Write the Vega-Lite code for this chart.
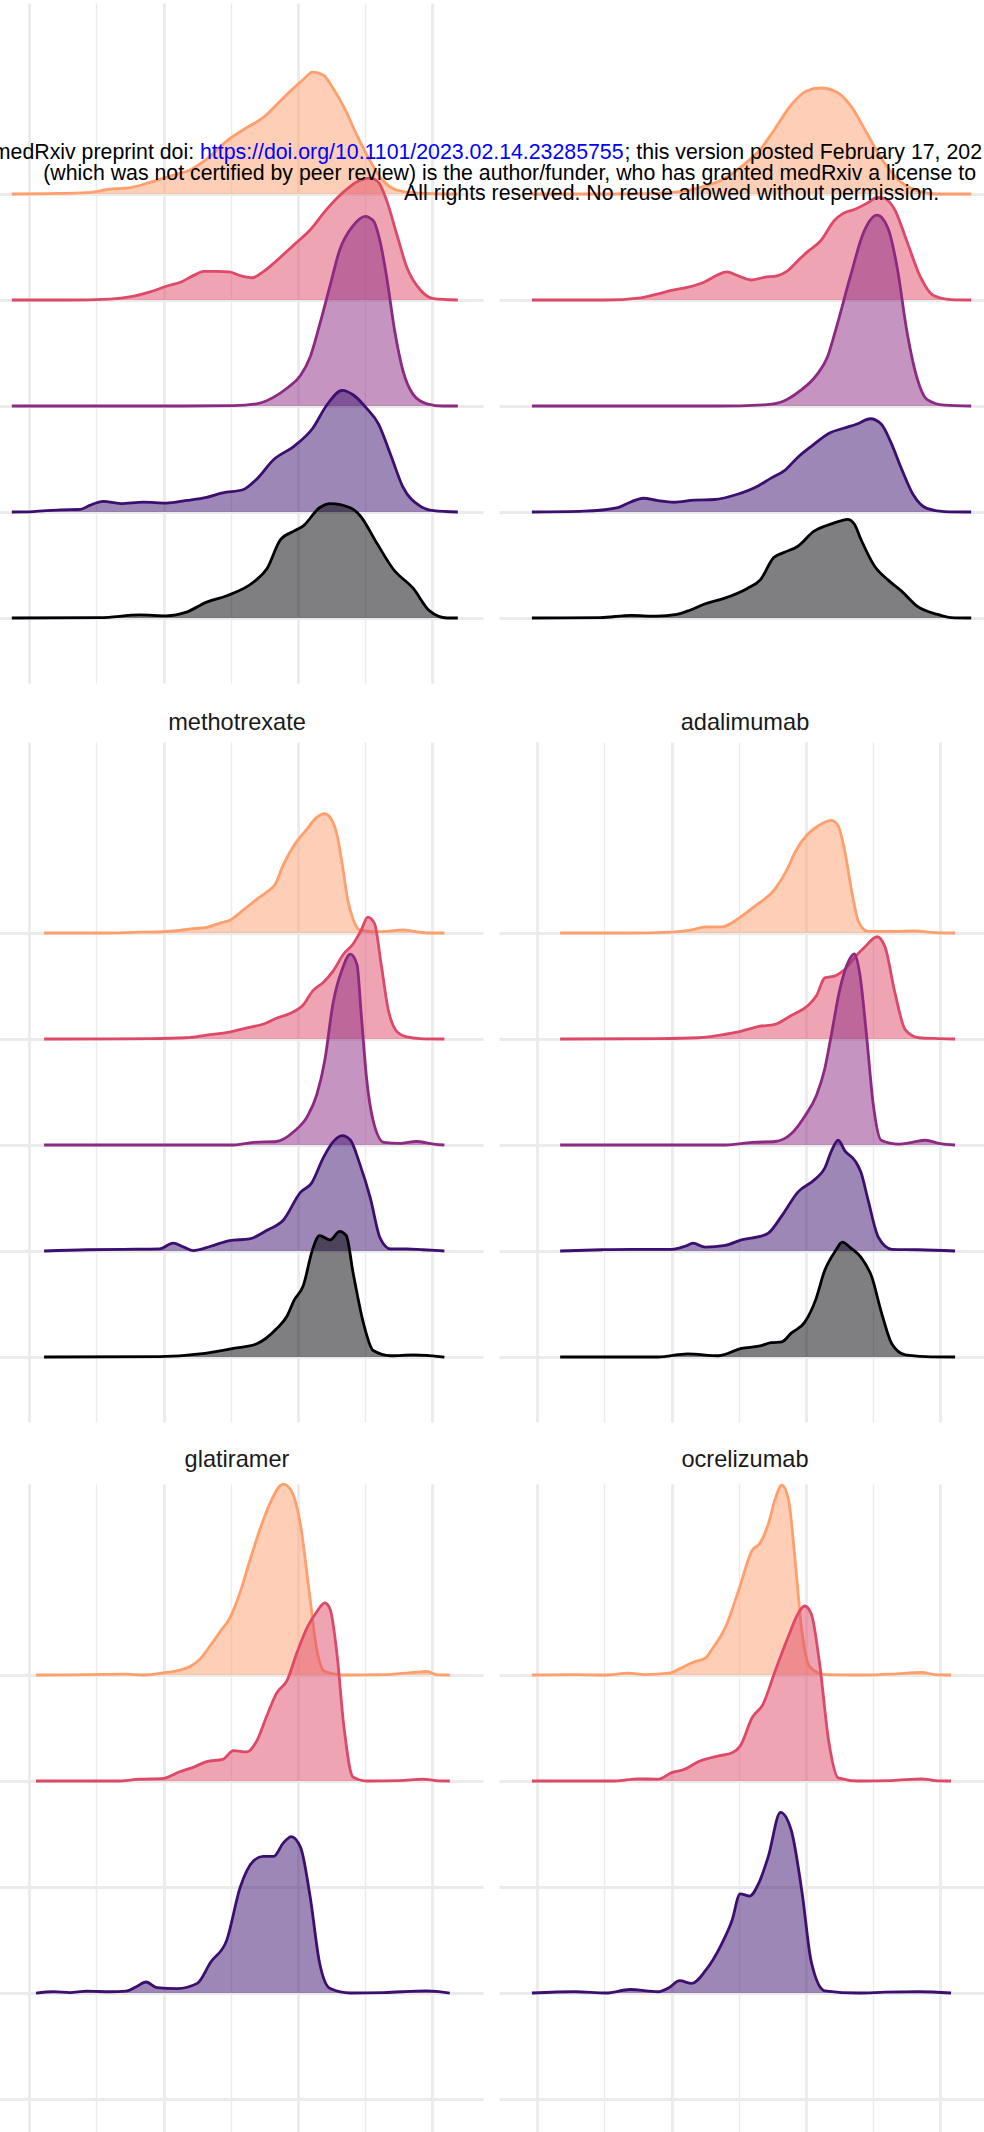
{
"$schema": "https://vega.github.io/schema/vega-lite/v6.json",
"padding": {"left": -9, "right": -7, "top": 3, "bottom": -27},
"background": "white",
"config": {"view": {"stroke": null}},
"datasets": {
"one": [{"x": 0, "d": 0, "g": 0}],
"tl": [
{"g":1,"x":-1.3,"d":0},{"g":1,"x":1.5,"d":0.004},{"g":1,"x":4.3,"d":0.013},{"g":1,"x":6.0,"d":0.046},{"g":1,"x":7.5,"d":0.06},{"g":1,"x":9.0,"d":0.11},{"g":1,"x":10.5,"d":0.17},{"g":1,"x":12.0,"d":0.23},{"g":1,"x":13.2,"d":0.33},{"g":1,"x":14.9,"d":0.52},{"g":1,"x":16.1,"d":0.62},{"g":1,"x":17.4,"d":0.72},{"g":1,"x":18.7,"d":0.88},{"g":1,"x":19.6,"d":0.99},{"g":1,"x":20.4,"d":1.08},{"g":1,"x":21.1,"d":1.15},{"g":1,"x":21.9,"d":1.12},{"g":1,"x":22.6,"d":1.0},{"g":1,"x":23.5,"d":0.8},{"g":1,"x":24.4,"d":0.55},{"g":1,"x":25.3,"d":0.33},{"g":1,"x":26.3,"d":0.13},{"g":1,"x":27.3,"d":0.04},{"g":1,"x":28.7,"d":0.01},{"g":1,"x":30.5,"d":0.002},{"g":1,"x":31.9,"d":0},
{"g":2,"x":-1.3,"d":0},{"g":2,"x":2.8,"d":0},{"g":2,"x":6.0,"d":0.008},{"g":2,"x":7.7,"d":0.034},{"g":2,"x":9.0,"d":0.076},{"g":2,"x":10.2,"d":0.13},{"g":2,"x":11.3,"d":0.17},{"g":2,"x":12.2,"d":0.23},{"g":2,"x":13.0,"d":0.27},{"g":2,"x":14.0,"d":0.27},{"g":2,"x":14.9,"d":0.265},{"g":2,"x":15.7,"d":0.23},{"g":2,"x":16.6,"d":0.21},{"g":2,"x":17.4,"d":0.265},{"g":2,"x":18.4,"d":0.37},{"g":2,"x":19.7,"d":0.52},{"g":2,"x":20.9,"d":0.66},{"g":2,"x":22.1,"d":0.85},{"g":2,"x":23.4,"d":1.02},{"g":2,"x":24.6,"d":1.13},{"g":2,"x":25.4,"d":1.15},{"g":2,"x":26.0,"d":1.11},{"g":2,"x":26.6,"d":0.94},{"g":2,"x":27.4,"d":0.6},{"g":2,"x":28.1,"d":0.31},{"g":2,"x":29.1,"d":0.097},{"g":2,"x":30.1,"d":0.013},{"g":2,"x":31.9,"d":0},
{"g":3,"x":-1.3,"d":0},{"g":3,"x":10.2,"d":0},{"g":3,"x":15.2,"d":0.004},{"g":3,"x":16.9,"d":0.02},{"g":3,"x":18.2,"d":0.084},{"g":3,"x":19.2,"d":0.17},{"g":3,"x":20.2,"d":0.29},{"g":3,"x":20.9,"d":0.46},{"g":3,"x":21.6,"d":0.76},{"g":3,"x":22.4,"d":1.14},{"g":3,"x":23.1,"d":1.47},{"g":3,"x":24.1,"d":1.7},{"g":3,"x":25.0,"d":1.79},{"g":3,"x":25.6,"d":1.75},{"g":3,"x":26.1,"d":1.56},{"g":3,"x":26.6,"d":1.22},{"g":3,"x":27.2,"d":0.71},{"g":3,"x":27.8,"d":0.34},{"g":3,"x":28.6,"d":0.105},{"g":3,"x":29.6,"d":0.021},{"g":3,"x":30.8,"d":0},{"g":3,"x":31.9,"d":0},
{"g":4,"x":-1.3,"d":0},{"g":4,"x":0.3,"d":0.004},{"g":4,"x":2.3,"d":0.021},{"g":4,"x":3.8,"d":0.025},{"g":4,"x":4.5,"d":0.063},{"g":4,"x":5.5,"d":0.1},{"g":4,"x":6.8,"d":0.08},{"g":4,"x":8.5,"d":0.093},{"g":4,"x":10.2,"d":0.084},{"g":4,"x":11.7,"d":0.109},{"g":4,"x":13.2,"d":0.139},{"g":4,"x":14.4,"d":0.181},{"g":4,"x":15.9,"d":0.21},{"g":4,"x":16.9,"d":0.307},{"g":4,"x":18.2,"d":0.496},{"g":4,"x":19.7,"d":0.62},{"g":4,"x":21.1,"d":0.79},{"g":4,"x":22.1,"d":1.0},{"g":4,"x":23.3,"d":1.148},{"g":4,"x":24.1,"d":1.106},{"g":4,"x":25.1,"d":0.98},{"g":4,"x":26.0,"d":0.83},{"g":4,"x":26.9,"d":0.54},{"g":4,"x":27.8,"d":0.24},{"g":4,"x":29.1,"d":0.055},{"g":4,"x":30.1,"d":0.013},{"g":4,"x":31.9,"d":0},
{"g":5,"x":-1.3,"d":0},{"g":5,"x":5.3,"d":0.004},{"g":5,"x":8.2,"d":0.029},{"g":5,"x":10.2,"d":0.021},{"g":5,"x":11.7,"d":0.055},{"g":5,"x":13.2,"d":0.15},{"g":5,"x":14.7,"d":0.21},{"g":5,"x":16.7,"d":0.34},{"g":5,"x":17.7,"d":0.467},{"g":5,"x":18.7,"d":0.74},{"g":5,"x":19.7,"d":0.82},{"g":5,"x":20.4,"d":0.87},{"g":5,"x":21.6,"d":1.04},{"g":5,"x":22.4,"d":1.08},{"g":5,"x":23.9,"d":1.04},{"g":5,"x":24.6,"d":0.97},{"g":5,"x":25.9,"d":0.7},{"g":5,"x":27.1,"d":0.46},{"g":5,"x":28.6,"d":0.277},{"g":5,"x":29.8,"d":0.067},{"g":5,"x":31.1,"d":0},{"g":5,"x":31.9,"d":0}
],
"tr": [
{"g":1,"x":-0.4,"d":0},{"g":1,"x":4.7,"d":0},{"g":1,"x":8.4,"d":0.004},{"g":1,"x":10.0,"d":0.015},{"g":1,"x":11.4,"d":0.04},{"g":1,"x":12.6,"d":0.08},{"g":1,"x":13.7,"d":0.13},{"g":1,"x":15.4,"d":0.28},{"g":1,"x":16.6,"d":0.42},{"g":1,"x":17.5,"d":0.58},{"g":1,"x":18.9,"d":0.84},{"g":1,"x":20.0,"d":0.97},{"g":1,"x":21.1,"d":1.0},{"g":1,"x":22.3,"d":0.96},{"g":1,"x":23.4,"d":0.82},{"g":1,"x":24.5,"d":0.58},{"g":1,"x":25.8,"d":0.3},{"g":1,"x":27.1,"d":0.11},{"g":1,"x":28.3,"d":0.03},{"g":1,"x":29.8,"d":0},{"g":1,"x":32.3,"d":0},
{"g":2,"x":-0.4,"d":0},{"g":2,"x":5.0,"d":0},{"g":2,"x":7.7,"d":0.021},{"g":2,"x":8.9,"d":0.055},{"g":2,"x":9.9,"d":0.088},{"g":2,"x":11.4,"d":0.126},{"g":2,"x":12.4,"d":0.168},{"g":2,"x":13.4,"d":0.235},{"g":2,"x":14.1,"d":0.265},{"g":2,"x":14.9,"d":0.231},{"g":2,"x":15.9,"d":0.189},{"g":2,"x":16.9,"d":0.214},{"g":2,"x":17.9,"d":0.231},{"g":2,"x":18.6,"d":0.273},{"g":2,"x":19.4,"d":0.37},{"g":2,"x":20.1,"d":0.454},{"g":2,"x":21.1,"d":0.559},{"g":2,"x":22.1,"d":0.748},{"g":2,"x":22.8,"d":0.82},{"g":2,"x":23.6,"d":0.854},{"g":2,"x":24.6,"d":0.917},{"g":2,"x":25.3,"d":0.967},{"g":2,"x":25.8,"d":0.96},{"g":2,"x":26.6,"d":0.854},{"g":2,"x":27.5,"d":0.56},{"g":2,"x":28.5,"d":0.223},{"g":2,"x":29.5,"d":0.042},{"g":2,"x":30.8,"d":0.004},{"g":2,"x":32.3,"d":0},
{"g":3,"x":-0.4,"d":0},{"g":3,"x":13.4,"d":0},{"g":3,"x":17.1,"d":0.013},{"g":3,"x":18.4,"d":0.05},{"g":3,"x":19.6,"d":0.147},{"g":3,"x":20.8,"d":0.294},{"g":3,"x":21.6,"d":0.463},{"g":3,"x":22.3,"d":0.757},{"g":3,"x":23.3,"d":1.22},{"g":3,"x":24.3,"d":1.64},{"g":3,"x":25.3,"d":1.8},{"g":3,"x":26.1,"d":1.68},{"g":3,"x":26.8,"d":1.3},{"g":3,"x":27.5,"d":0.715},{"g":3,"x":28.3,"d":0.252},{"g":3,"x":29.0,"d":0.063},{"g":3,"x":30.3,"d":0.008},{"g":3,"x":32.3,"d":0},
{"g":4,"x":-0.4,"d":0},{"g":4,"x":3.5,"d":0.008},{"g":4,"x":6.0,"d":0.042},{"g":4,"x":7.0,"d":0.097},{"g":4,"x":7.9,"d":0.13},{"g":4,"x":8.9,"d":0.109},{"g":4,"x":10.2,"d":0.092},{"g":4,"x":11.7,"d":0.113},{"g":4,"x":13.2,"d":0.118},{"g":4,"x":14.9,"d":0.168},{"g":4,"x":16.4,"d":0.244},{"g":4,"x":17.4,"d":0.32},{"g":4,"x":18.4,"d":0.39},{"g":4,"x":19.4,"d":0.517},{"g":4,"x":20.4,"d":0.62},{"g":4,"x":21.8,"d":0.748},{"g":4,"x":22.8,"d":0.79},{"g":4,"x":23.8,"d":0.83},{"g":4,"x":24.8,"d":0.88},{"g":4,"x":25.6,"d":0.83},{"g":4,"x":26.3,"d":0.664},{"g":4,"x":27.1,"d":0.412},{"g":4,"x":28.0,"d":0.16},{"g":4,"x":29.0,"d":0.034},{"g":4,"x":30.3,"d":0.004},{"g":4,"x":32.3,"d":0},
{"g":5,"x":-0.4,"d":0},{"g":5,"x":4.7,"d":0.004},{"g":5,"x":7.0,"d":0.025},{"g":5,"x":8.9,"d":0.017},{"g":5,"x":10.4,"d":0.034},{"g":5,"x":11.4,"d":0.076},{"g":5,"x":12.4,"d":0.13},{"g":5,"x":13.9,"d":0.185},{"g":5,"x":15.6,"d":0.277},{"g":5,"x":16.6,"d":0.36},{"g":5,"x":17.6,"d":0.57},{"g":5,"x":18.4,"d":0.62},{"g":5,"x":19.4,"d":0.677},{"g":5,"x":20.6,"d":0.82},{"g":5,"x":21.6,"d":0.875},{"g":5,"x":22.6,"d":0.917},{"g":5,"x":23.1,"d":0.93},{"g":5,"x":23.6,"d":0.887},{"g":5,"x":24.1,"d":0.74},{"g":5,"x":25.1,"d":0.49},{"g":5,"x":26.1,"d":0.36},{"g":5,"x":27.1,"d":0.256},{"g":5,"x":28.3,"d":0.109},{"g":5,"x":29.8,"d":0.034},{"g":5,"x":30.8,"d":0.004},{"g":5,"x":32.3,"d":0}
],
"ml": [
{"g":1,"x":1.1,"d":0},{"g":1,"x":5.3,"d":0},{"g":1,"x":8.2,"d":0.008},{"g":1,"x":10.0,"d":0.012},{"g":1,"x":11.2,"d":0.025},{"g":1,"x":12.2,"d":0.041},{"g":1,"x":13.2,"d":0.053},{"g":1,"x":14.2,"d":0.094},{"g":1,"x":14.9,"d":0.119},{"g":1,"x":15.9,"d":0.213},{"g":1,"x":16.9,"d":0.315},{"g":1,"x":17.7,"d":0.389},{"g":1,"x":18.3,"d":0.458},{"g":1,"x":18.9,"d":0.64},{"g":1,"x":19.7,"d":0.826},{"g":1,"x":20.6,"d":0.97},{"g":1,"x":21.4,"d":1.09},{"g":1,"x":22.0,"d":1.125},{"g":1,"x":22.5,"d":1.07},{"g":1,"x":22.9,"d":0.93},{"g":1,"x":23.3,"d":0.646},{"g":1,"x":23.7,"d":0.315},{"g":1,"x":24.1,"d":0.131},{"g":1,"x":24.6,"d":0.029},{"g":1,"x":25.6,"d":0.012},{"g":1,"x":26.6,"d":0.016},{"g":1,"x":27.8,"d":0.029},{"g":1,"x":28.8,"d":0.012},{"g":1,"x":29.8,"d":0},{"g":1,"x":30.9,"d":0},
{"g":2,"x":1.1,"d":0},{"g":2,"x":9.0,"d":0.004},{"g":2,"x":11.7,"d":0.012},{"g":2,"x":13.2,"d":0.037},{"g":2,"x":14.9,"d":0.065},{"g":2,"x":16.2,"d":0.106},{"g":2,"x":17.4,"d":0.139},{"g":2,"x":18.4,"d":0.196},{"g":2,"x":19.4,"d":0.241},{"g":2,"x":20.4,"d":0.323},{"g":2,"x":21.1,"d":0.454},{"g":2,"x":21.9,"d":0.536},{"g":2,"x":22.6,"d":0.638},{"g":2,"x":23.4,"d":0.802},{"g":2,"x":24.1,"d":0.896},{"g":2,"x":24.7,"d":1.026},{"g":2,"x":25.2,"d":1.149},{"g":2,"x":25.7,"d":1.088},{"g":2,"x":26.2,"d":0.7},{"g":2,"x":26.7,"d":0.29},{"g":2,"x":27.4,"d":0.065},{"g":2,"x":28.1,"d":0.02},{"g":2,"x":29.1,"d":0.004},{"g":2,"x":30.9,"d":0},
{"g":3,"x":1.1,"d":0},{"g":3,"x":15.2,"d":0},{"g":3,"x":16.7,"d":0.025},{"g":3,"x":18.4,"d":0.033},{"g":3,"x":19.7,"d":0.127},{"g":3,"x":20.7,"d":0.27},{"g":3,"x":21.4,"d":0.474},{"g":3,"x":22.0,"d":0.8},{"g":3,"x":22.6,"d":1.33},{"g":3,"x":23.3,"d":1.66},{"g":3,"x":23.9,"d":1.8},{"g":3,"x":24.4,"d":1.7},{"g":3,"x":24.7,"d":1.25},{"g":3,"x":25.1,"d":0.638},{"g":3,"x":25.6,"d":0.229},{"g":3,"x":26.4,"d":0.025},{"g":3,"x":27.6,"d":0.016},{"g":3,"x":28.8,"d":0.033},{"g":3,"x":30.1,"d":0.008},{"g":3,"x":30.9,"d":0},
{"g":4,"x":1.1,"d":0},{"g":4,"x":4.3,"d":0.012},{"g":4,"x":7.0,"d":0.016},{"g":4,"x":9.7,"d":0.02},{"g":4,"x":10.7,"d":0.074},{"g":4,"x":11.5,"d":0.037},{"g":4,"x":12.2,"d":0.004},{"g":4,"x":13.5,"d":0.045},{"g":4,"x":14.9,"d":0.098},{"g":4,"x":16.4,"d":0.115},{"g":4,"x":17.7,"d":0.196},{"g":4,"x":18.9,"d":0.29},{"g":4,"x":20.2,"d":0.556},{"g":4,"x":21.0,"d":0.638},{"g":4,"x":21.9,"d":0.883},{"g":4,"x":22.6,"d":1.027},{"g":4,"x":23.3,"d":1.088},{"g":4,"x":23.9,"d":1.047},{"g":4,"x":24.6,"d":0.822},{"g":4,"x":25.4,"d":0.495},{"g":4,"x":26.1,"d":0.127},{"g":4,"x":26.9,"d":0.02},{"g":4,"x":28.1,"d":0.02},{"g":4,"x":29.3,"d":0.012},{"g":4,"x":30.9,"d":0},
{"g":5,"x":1.1,"d":0},{"g":5,"x":9.7,"d":0.004},{"g":5,"x":12.7,"d":0.029},{"g":5,"x":15.2,"d":0.082},{"g":5,"x":16.9,"d":0.123},{"g":5,"x":18.4,"d":0.266},{"g":5,"x":19.2,"d":0.389},{"g":5,"x":19.7,"d":0.532},{"g":5,"x":20.4,"d":0.675},{"g":5,"x":21.1,"d":1.02},{"g":5,"x":21.6,"d":1.145},{"g":5,"x":22.4,"d":1.104},{"g":5,"x":23.1,"d":1.186},{"g":5,"x":23.6,"d":1.145},{"g":5,"x":24.1,"d":0.798},{"g":5,"x":24.9,"d":0.307},{"g":5,"x":25.6,"d":0.061},{"g":5,"x":26.9,"d":0.012},{"g":5,"x":28.6,"d":0.02},{"g":5,"x":30.9,"d":0}
],
"mr": [
{"g":1,"x":1.7,"d":0},{"g":1,"x":6.5,"d":0},{"g":1,"x":10.0,"d":0.008},{"g":1,"x":11.5,"d":0.029},{"g":1,"x":12.5,"d":0.057},{"g":1,"x":13.7,"d":0.057},{"g":1,"x":15.0,"d":0.139},{"g":1,"x":16.2,"d":0.254},{"g":1,"x":17.7,"d":0.417},{"g":1,"x":18.6,"d":0.601},{"g":1,"x":19.2,"d":0.765},{"g":1,"x":20.1,"d":0.929},{"g":1,"x":20.9,"d":1.01},{"g":1,"x":21.9,"d":1.063},{"g":1,"x":22.4,"d":1.01},{"g":1,"x":22.9,"d":0.765},{"g":1,"x":23.4,"d":0.397},{"g":1,"x":23.9,"d":0.11},{"g":1,"x":24.6,"d":0.016},{"g":1,"x":26.4,"d":0.016},{"g":1,"x":28.1,"d":0.02},{"g":1,"x":29.6,"d":0.004},{"g":1,"x":31.1,"d":0},
{"g":2,"x":1.7,"d":0},{"g":2,"x":9.0,"d":0.004},{"g":2,"x":12.0,"d":0.012},{"g":2,"x":14.0,"d":0.045},{"g":2,"x":15.2,"d":0.074},{"g":2,"x":16.5,"d":0.119},{"g":2,"x":17.7,"d":0.139},{"g":2,"x":18.9,"d":0.221},{"g":2,"x":20.1,"d":0.311},{"g":2,"x":20.8,"d":0.413},{"g":2,"x":21.4,"d":0.577},{"g":2,"x":22.2,"d":0.597},{"g":2,"x":22.9,"d":0.658},{"g":2,"x":23.7,"d":0.781},{"g":2,"x":24.4,"d":0.871},{"g":2,"x":25.3,"d":0.965},{"g":2,"x":25.9,"d":0.863},{"g":2,"x":26.6,"d":0.45},{"g":2,"x":27.4,"d":0.086},{"g":2,"x":28.4,"d":0.012},{"g":2,"x":29.9,"d":0.004},{"g":2,"x":31.1,"d":0},
{"g":3,"x":1.7,"d":0},{"g":3,"x":14.0,"d":0},{"g":3,"x":16.0,"d":0.025},{"g":3,"x":17.7,"d":0.033},{"g":3,"x":18.9,"d":0.106},{"g":3,"x":19.9,"d":0.27},{"g":3,"x":20.8,"d":0.474},{"g":3,"x":21.4,"d":0.72},{"g":3,"x":21.9,"d":1.047},{"g":3,"x":22.5,"d":1.456},{"g":3,"x":23.2,"d":1.742},{"g":3,"x":23.6,"d":1.804},{"g":3,"x":24.0,"d":1.62},{"g":3,"x":24.5,"d":1.047},{"g":3,"x":25.0,"d":0.393},{"g":3,"x":25.6,"d":0.045},{"g":3,"x":26.9,"d":0.008},{"g":3,"x":27.9,"d":0.025},{"g":3,"x":28.9,"d":0.045},{"g":3,"x":29.9,"d":0.016},{"g":3,"x":31.1,"d":0},
{"g":4,"x":1.7,"d":0},{"g":4,"x":4.8,"d":0.012},{"g":4,"x":7.0,"d":0.016},{"g":4,"x":10.0,"d":0.016},{"g":4,"x":11.0,"d":0.045},{"g":4,"x":11.6,"d":0.074},{"g":4,"x":12.5,"d":0.037},{"g":4,"x":14.0,"d":0.053},{"g":4,"x":15.2,"d":0.106},{"g":4,"x":16.5,"d":0.135},{"g":4,"x":17.2,"d":0.168},{"g":4,"x":18.2,"d":0.331},{"g":4,"x":19.4,"d":0.556},{"g":4,"x":20.7,"d":0.679},{"g":4,"x":21.4,"d":0.781},{"g":4,"x":21.9,"d":0.945},{"g":4,"x":22.4,"d":1.047},{"g":4,"x":22.9,"d":0.945},{"g":4,"x":23.7,"d":0.843},{"g":4,"x":24.1,"d":0.74},{"g":4,"x":24.6,"d":0.495},{"g":4,"x":25.4,"d":0.127},{"g":4,"x":26.4,"d":0.016},{"g":4,"x":28.4,"d":0.012},{"g":4,"x":31.1,"d":0},
{"g":5,"x":1.7,"d":0},{"g":5,"x":9.0,"d":0},{"g":5,"x":11.2,"d":0.029},{"g":5,"x":13.5,"d":0.012},{"g":5,"x":15.2,"d":0.082},{"g":5,"x":16.5,"d":0.102},{"g":5,"x":17.4,"d":0.135},{"g":5,"x":18.2,"d":0.143},{"g":5,"x":18.9,"d":0.225},{"g":5,"x":19.9,"d":0.327},{"g":5,"x":20.7,"d":0.532},{"g":5,"x":21.4,"d":0.818},{"g":5,"x":22.2,"d":1.002},{"g":5,"x":22.7,"d":1.084},{"g":5,"x":23.4,"d":1.022},{"g":5,"x":24.1,"d":0.94},{"g":5,"x":24.9,"d":0.756},{"g":5,"x":25.6,"d":0.429},{"g":5,"x":26.4,"d":0.123},{"g":5,"x":27.4,"d":0.02},{"g":5,"x":28.9,"d":0.004},{"g":5,"x":31.1,"d":0}
],
"bl": [
{"g":1,"x":0.5,"d":0},{"g":1,"x":4.3,"d":0.004},{"g":1,"x":7.2,"d":0.008},{"g":1,"x":8.5,"d":0},{"g":1,"x":10.0,"d":0.021},{"g":1,"x":10.7,"d":0.033},{"g":1,"x":12.0,"d":0.083},{"g":1,"x":12.7,"d":0.15},{"g":1,"x":13.5,"d":0.283},{"g":1,"x":14.2,"d":0.408},{"g":1,"x":14.9,"d":0.532},{"g":1,"x":15.7,"d":0.782},{"g":1,"x":16.4,"d":1.073},{"g":1,"x":17.2,"d":1.385},{"g":1,"x":17.9,"d":1.614},{"g":1,"x":18.9,"d":1.8},{"g":1,"x":19.5,"d":1.738},{"g":1,"x":20.2,"d":1.406},{"g":1,"x":20.8,"d":0.823},{"g":1,"x":21.4,"d":0.241},{"g":1,"x":22.0,"d":0.033},{"g":1,"x":23.4,"d":0},{"g":1,"x":26.4,"d":0.004},{"g":1,"x":28.6,"d":0.025},{"g":1,"x":29.6,"d":0.033},{"g":1,"x":30.3,"d":0.004},{"g":1,"x":31.3,"d":0},
{"g":2,"x":0.5,"d":0},{"g":2,"x":6.5,"d":0},{"g":2,"x":8.2,"d":0.017},{"g":2,"x":10.0,"d":0.025},{"g":2,"x":11.2,"d":0.087},{"g":2,"x":12.2,"d":0.129},{"g":2,"x":13.2,"d":0.183},{"g":2,"x":14.4,"d":0.204},{"g":2,"x":15.2,"d":0.287},{"g":2,"x":16.2,"d":0.274},{"g":2,"x":16.9,"d":0.37},{"g":2,"x":17.7,"d":0.62},{"g":2,"x":18.4,"d":0.827},{"g":2,"x":19.2,"d":0.952},{"g":2,"x":19.9,"d":1.202},{"g":2,"x":20.7,"d":1.451},{"g":2,"x":21.4,"d":1.597},{"g":2,"x":22.0,"d":1.68},{"g":2,"x":22.4,"d":1.618},{"g":2,"x":22.9,"d":1.202},{"g":2,"x":23.4,"d":0.536},{"g":2,"x":24.1,"d":0.037},{"g":2,"x":25.1,"d":0},{"g":2,"x":27.6,"d":0.004},{"g":2,"x":29.3,"d":0.017},{"g":2,"x":30.3,"d":0.004},{"g":2,"x":31.3,"d":0},
{"g":4,"x":0.5,"d":0},{"g":4,"x":1.8,"d":0.012},{"g":4,"x":3.0,"d":0.004},{"g":4,"x":4.3,"d":0.017},{"g":4,"x":6.0,"d":0.012},{"g":4,"x":7.2,"d":0.017},{"g":4,"x":8.0,"d":0.062},{"g":4,"x":8.7,"d":0.104},{"g":4,"x":9.5,"d":0.05},{"g":4,"x":11.0,"d":0.042},{"g":4,"x":12.5,"d":0.091},{"g":4,"x":13.5,"d":0.291},{"g":4,"x":14.7,"d":0.499},{"g":4,"x":15.7,"d":0.998},{"g":4,"x":16.7,"d":1.247},{"g":4,"x":17.4,"d":1.289},{"g":4,"x":18.2,"d":1.289},{"g":4,"x":18.9,"d":1.414},{"g":4,"x":19.5,"d":1.476},{"g":4,"x":20.2,"d":1.372},{"g":4,"x":20.9,"d":0.915},{"g":4,"x":21.6,"d":0.291},{"g":4,"x":22.4,"d":0.042},{"g":4,"x":23.9,"d":0},{"g":4,"x":26.4,"d":0.004},{"g":4,"x":29.6,"d":0.021},{"g":4,"x":31.3,"d":0}
],
"br": [
{"g":1,"x":-0.4,"d":0},{"g":1,"x":2.8,"d":0.004},{"g":1,"x":5.1,"d":0},{"g":1,"x":6.8,"d":0.017},{"g":1,"x":8.0,"d":0.004},{"g":1,"x":9.8,"d":0.017},{"g":1,"x":10.7,"d":0.067},{"g":1,"x":11.7,"d":0.125},{"g":1,"x":12.5,"d":0.158},{"g":1,"x":13.0,"d":0.241},{"g":1,"x":14.0,"d":0.449},{"g":1,"x":15.0,"d":0.802},{"g":1,"x":16.0,"d":1.177},{"g":1,"x":16.6,"d":1.247},{"g":1,"x":17.2,"d":1.426},{"g":1,"x":17.7,"d":1.655},{"g":1,"x":18.2,"d":1.792},{"g":1,"x":18.7,"d":1.655},{"g":1,"x":19.2,"d":1.073},{"g":1,"x":19.7,"d":0.408},{"g":1,"x":20.3,"d":0.075},{"g":1,"x":21.4,"d":0.004},{"g":1,"x":23.9,"d":0},{"g":1,"x":26.4,"d":0.008},{"g":1,"x":28.6,"d":0.025},{"g":1,"x":29.6,"d":0.004},{"g":1,"x":30.8,"d":0},
{"g":2,"x":-0.4,"d":0},{"g":2,"x":5.8,"d":0},{"g":2,"x":7.5,"d":0.021},{"g":2,"x":9.0,"d":0.017},{"g":2,"x":10.0,"d":0.079},{"g":2,"x":11.0,"d":0.112},{"g":2,"x":12.0,"d":0.183},{"g":2,"x":13.5,"d":0.237},{"g":2,"x":14.5,"d":0.266},{"g":2,"x":15.1,"d":0.329},{"g":2,"x":16.0,"d":0.599},{"g":2,"x":16.8,"d":0.723},{"g":2,"x":17.7,"d":1.035},{"g":2,"x":18.7,"d":1.368},{"g":2,"x":19.4,"d":1.576},{"g":2,"x":19.9,"d":1.651},{"g":2,"x":20.4,"d":1.576},{"g":2,"x":21.0,"d":1.123},{"g":2,"x":21.7,"d":0.37},{"g":2,"x":22.4,"d":0.029},{"g":2,"x":23.9,"d":0},{"g":2,"x":26.4,"d":0.004},{"g":2,"x":28.6,"d":0.021},{"g":2,"x":29.6,"d":0.004},{"g":2,"x":30.8,"d":0},
{"g":4,"x":-0.4,"d":0},{"g":4,"x":2.8,"d":0.012},{"g":4,"x":5.1,"d":0},{"g":4,"x":6.9,"d":0.033},{"g":4,"x":9.0,"d":0.012},{"g":4,"x":9.8,"d":0.05},{"g":4,"x":10.6,"d":0.116},{"g":4,"x":11.5,"d":0.091},{"g":4,"x":12.5,"d":0.208},{"g":4,"x":13.7,"d":0.457},{"g":4,"x":14.5,"d":0.686},{"g":4,"x":15.1,"d":0.936},{"g":4,"x":15.8,"d":0.915},{"g":4,"x":16.5,"d":1.04},{"g":4,"x":17.2,"d":1.289},{"g":4,"x":18.1,"d":1.705},{"g":4,"x":18.9,"d":1.538},{"g":4,"x":19.7,"d":0.956},{"g":4,"x":20.4,"d":0.291},{"g":4,"x":21.4,"d":0.021},{"g":4,"x":23.9,"d":0},{"g":4,"x":25.9,"d":0.008},{"g":4,"x":28.4,"d":0.012},{"g":4,"x":30.8,"d":0}
]
},
"spacing": 24,
"vconcat": [
{"spacing": 16, "bounds": "flush", "hconcat": [
{"width": 492, "height": 680, "data": {"name": "tl"},
 "encoding": {"x": {"field": "x", "type": "quantitative", "scale": {"domain": [-2.851, 33.775], "nice": false, "zero": false}, "axis": {"values": [0,5,10,15,20,25,30], "grid": true, "labels": false, "ticks": false, "domain": false, "title": null, "gridColor": "#ebebeb", "gridWidth": {"condition": {"test": "datum.value % 10 === 0", "value": 2.8}, "value": 1.4}}}},
 "layer": [
  {"data": {"name": "one"}, "mark": {"type": "point", "opacity": 0}, "encoding": {"y": {"datum": 0, "type": "quantitative", "scale": {"domain": [0, 6.415], "nice": false, "zero": false}, "axis": {"values": [0.613,1.613,2.613,3.613,4.613], "grid": true, "labels": false, "ticks": false, "domain": false, "title": null, "gridColor": "#ebebeb", "gridWidth": 2.8}}}},
  {"transform": [{"filter": "datum.g === 1"}], "encoding": {"y": {"field": "d", "type": "quantitative", "scale": {"domain": [-4.613, 1.802], "nice": false, "zero": false}, "axis": null}}, "layer": [{"mark": {"type": "area", "interpolate": "monotone", "color": "#FE9F6D", "fillOpacity": 0.5}, "encoding": {"y2": {"datum": 0}}}, {"mark": {"type": "line", "interpolate": "monotone", "color": "#FE9F6D", "strokeWidth": 2.8}}]},
  {"transform": [{"filter": "datum.g === 2"}], "encoding": {"y": {"field": "d", "type": "quantitative", "scale": {"domain": [-3.613, 2.802], "nice": false, "zero": false}, "axis": null}}, "layer": [{"mark": {"type": "area", "interpolate": "monotone", "color": "#DE4968", "fillOpacity": 0.5}, "encoding": {"y2": {"datum": 0}}}, {"mark": {"type": "line", "interpolate": "monotone", "color": "#DE4968", "strokeWidth": 2.8}}]},
  {"transform": [{"filter": "datum.g === 3"}], "encoding": {"y": {"field": "d", "type": "quantitative", "scale": {"domain": [-2.613, 3.802], "nice": false, "zero": false}, "axis": null}}, "layer": [{"mark": {"type": "area", "interpolate": "monotone", "color": "#8C2981", "fillOpacity": 0.5}, "encoding": {"y2": {"datum": 0}}}, {"mark": {"type": "line", "interpolate": "monotone", "color": "#8C2981", "strokeWidth": 2.8}}]},
  {"transform": [{"filter": "datum.g === 4"}], "encoding": {"y": {"field": "d", "type": "quantitative", "scale": {"domain": [-1.613, 4.802], "nice": false, "zero": false}, "axis": null}}, "layer": [{"mark": {"type": "area", "interpolate": "monotone", "color": "#3B0F70", "fillOpacity": 0.5}, "encoding": {"y2": {"datum": 0}}}, {"mark": {"type": "line", "interpolate": "monotone", "color": "#3B0F70", "strokeWidth": 2.8}}]},
  {"transform": [{"filter": "datum.g === 5"}], "encoding": {"y": {"field": "d", "type": "quantitative", "scale": {"domain": [-0.613, 5.802], "nice": false, "zero": false}, "axis": null}}, "layer": [{"mark": {"type": "area", "interpolate": "monotone", "color": "#000004", "fillOpacity": 0.5}, "encoding": {"y2": {"datum": 0}}}, {"mark": {"type": "line", "interpolate": "monotone", "color": "#000004", "strokeWidth": 2.8}}]}
 ],
 "resolve": {"scale": {"y": "independent"}}},
{"width": 492, "height": 680, "data": {"name": "tr"},
 "encoding": {"x": {"field": "x", "type": "quantitative", "scale": {"domain": [-2.851, 33.775], "nice": false, "zero": false}, "axis": {"values": [0,5,10,15,20,25,30], "grid": true, "labels": false, "ticks": false, "domain": false, "title": null, "gridColor": "#ebebeb", "gridWidth": {"condition": {"test": "datum.value % 10 === 0", "value": 2.8}, "value": 1.4}}}},
 "layer": [
  {"data": {"name": "one"}, "mark": {"type": "point", "opacity": 0}, "encoding": {"y": {"datum": 0, "type": "quantitative", "scale": {"domain": [0, 6.415], "nice": false, "zero": false}, "axis": {"values": [0.613,1.613,2.613,3.613,4.613], "grid": true, "labels": false, "ticks": false, "domain": false, "title": null, "gridColor": "#ebebeb", "gridWidth": 2.8}}}},
  {"transform": [{"filter": "datum.g === 1"}], "encoding": {"y": {"field": "d", "type": "quantitative", "scale": {"domain": [-4.613, 1.802], "nice": false, "zero": false}, "axis": null}}, "layer": [{"mark": {"type": "area", "interpolate": "monotone", "color": "#FE9F6D", "fillOpacity": 0.5}, "encoding": {"y2": {"datum": 0}}}, {"mark": {"type": "line", "interpolate": "monotone", "color": "#FE9F6D", "strokeWidth": 2.8}}]},
  {"transform": [{"filter": "datum.g === 2"}], "encoding": {"y": {"field": "d", "type": "quantitative", "scale": {"domain": [-3.613, 2.802], "nice": false, "zero": false}, "axis": null}}, "layer": [{"mark": {"type": "area", "interpolate": "monotone", "color": "#DE4968", "fillOpacity": 0.5}, "encoding": {"y2": {"datum": 0}}}, {"mark": {"type": "line", "interpolate": "monotone", "color": "#DE4968", "strokeWidth": 2.8}}]},
  {"transform": [{"filter": "datum.g === 3"}], "encoding": {"y": {"field": "d", "type": "quantitative", "scale": {"domain": [-2.613, 3.802], "nice": false, "zero": false}, "axis": null}}, "layer": [{"mark": {"type": "area", "interpolate": "monotone", "color": "#8C2981", "fillOpacity": 0.5}, "encoding": {"y2": {"datum": 0}}}, {"mark": {"type": "line", "interpolate": "monotone", "color": "#8C2981", "strokeWidth": 2.8}}]},
  {"transform": [{"filter": "datum.g === 4"}], "encoding": {"y": {"field": "d", "type": "quantitative", "scale": {"domain": [-1.613, 4.802], "nice": false, "zero": false}, "axis": null}}, "layer": [{"mark": {"type": "area", "interpolate": "monotone", "color": "#3B0F70", "fillOpacity": 0.5}, "encoding": {"y2": {"datum": 0}}}, {"mark": {"type": "line", "interpolate": "monotone", "color": "#3B0F70", "strokeWidth": 2.8}}]},
  {"transform": [{"filter": "datum.g === 5"}], "encoding": {"y": {"field": "d", "type": "quantitative", "scale": {"domain": [-0.613, 5.802], "nice": false, "zero": false}, "axis": null}}, "layer": [{"mark": {"type": "area", "interpolate": "monotone", "color": "#000004", "fillOpacity": 0.5}, "encoding": {"y2": {"datum": 0}}}, {"mark": {"type": "line", "interpolate": "monotone", "color": "#000004", "strokeWidth": 2.8}}]},
  {"data": {"name": "one"}, "mark": {"type": "text", "align": "left", "baseline": "alphabetic", "font": "Liberation Sans", "fontSize": 21.3, "color": "#000000"}, "encoding": {"text": {"value": "medRxiv preprint doi: "}, "x": {"datum": -40.53, "type": "quantitative", "scale": {"domain": [-2.851, 33.775], "nice": false, "zero": false}, "axis": null}, "y": {"datum": 4.939, "type": "quantitative", "scale": {"domain": [0, 6.415], "nice": false, "zero": false}, "axis": null}}},
  {"data": {"name": "one"}, "mark": {"type": "text", "align": "left", "baseline": "alphabetic", "font": "Liberation Sans", "fontSize": 21.3, "color": "#0000FF"}, "encoding": {"text": {"value": "https://doi.org/10.1101/2023.02.14.23285755"}, "x": {"datum": -25.11, "type": "quantitative", "scale": {"domain": [-2.851, 33.775], "nice": false, "zero": false}, "axis": null}, "y": {"datum": 4.939, "type": "quantitative", "scale": {"domain": [0, 6.415], "nice": false, "zero": false}, "axis": null}}},
  {"data": {"name": "one"}, "mark": {"type": "text", "align": "left", "baseline": "alphabetic", "font": "Liberation Sans", "fontSize": 21.3, "color": "#000000"}, "encoding": {"text": {"value": "; this version posted February 17, 202"}, "x": {"datum": 6.49, "type": "quantitative", "scale": {"domain": [-2.851, 33.775], "nice": false, "zero": false}, "axis": null}, "y": {"datum": 4.939, "type": "quantitative", "scale": {"domain": [0, 6.415], "nice": false, "zero": false}, "axis": null}}},
  {"data": {"name": "one"}, "mark": {"type": "text", "align": "left", "baseline": "alphabetic", "font": "Liberation Sans", "fontSize": 21.3, "color": "#000000"}, "encoding": {"text": {"value": "(which was not certified by peer review) is the author/funder, who has granted medRxiv a license to"}, "x": {"datum": -36.78, "type": "quantitative", "scale": {"domain": [-2.851, 33.775], "nice": false, "zero": false}, "axis": null}, "y": {"datum": 4.747, "type": "quantitative", "scale": {"domain": [0, 6.415], "nice": false, "zero": false}, "axis": null}}},
  {"data": {"name": "one"}, "mark": {"type": "text", "align": "left", "baseline": "alphabetic", "font": "Liberation Sans", "fontSize": 21.3, "color": "#000000"}, "encoding": {"text": {"value": "All rights reserved. No reuse allowed without permission."}, "x": {"datum": -9.92, "type": "quantitative", "scale": {"domain": [-2.851, 33.775], "nice": false, "zero": false}, "axis": null}, "y": {"datum": 4.557, "type": "quantitative", "scale": {"domain": [0, 6.415], "nice": false, "zero": false}, "axis": null}}}
 ],
 "resolve": {"scale": {"y": "independent"}}}
]},
{"spacing": 22, "vconcat": [
{"spacing": 16, "hconcat": [
{"width": 492, "height": 680, "data": {"name": "ml"},
 "title": {"text": "methotrexate", "fontSize": 23.6, "font": "Liberation Sans", "fontWeight": "normal", "color": "#1a1a1a", "anchor": "middle", "frame": "group", "baseline": "alphabetic", "offset": -11.5},
 "encoding": {"x": {"field": "x", "type": "quantitative", "scale": {"domain": [-2.851, 33.775], "nice": false, "zero": false}, "axis": {"values": [0,5,10,15,20,25,30], "grid": true, "labels": false, "ticks": false, "domain": false, "title": null, "gridColor": "#ebebeb", "gridWidth": {"condition": {"test": "datum.value % 10 === 0", "value": 2.8}, "value": 1.4}}}},
 "layer": [
  {"data": {"name": "one"}, "mark": {"type": "point", "opacity": 0}, "encoding": {"y": {"datum": 0, "type": "quantitative", "scale": {"domain": [0, 6.415], "nice": false, "zero": false}, "axis": {"values": [0.613,1.613,2.613,3.613,4.613], "grid": true, "labels": false, "ticks": false, "domain": false, "title": null, "gridColor": "#ebebeb", "gridWidth": 2.8}}}},
  {"transform": [{"filter": "datum.g === 1"}], "encoding": {"y": {"field": "d", "type": "quantitative", "scale": {"domain": [-4.613, 1.802], "nice": false, "zero": false}, "axis": null}}, "layer": [{"mark": {"type": "area", "interpolate": "monotone", "color": "#FE9F6D", "fillOpacity": 0.5}, "encoding": {"y2": {"datum": 0}}}, {"mark": {"type": "line", "interpolate": "monotone", "color": "#FE9F6D", "strokeWidth": 2.8}}]},
  {"transform": [{"filter": "datum.g === 2"}], "encoding": {"y": {"field": "d", "type": "quantitative", "scale": {"domain": [-3.613, 2.802], "nice": false, "zero": false}, "axis": null}}, "layer": [{"mark": {"type": "area", "interpolate": "monotone", "color": "#DE4968", "fillOpacity": 0.5}, "encoding": {"y2": {"datum": 0}}}, {"mark": {"type": "line", "interpolate": "monotone", "color": "#DE4968", "strokeWidth": 2.8}}]},
  {"transform": [{"filter": "datum.g === 3"}], "encoding": {"y": {"field": "d", "type": "quantitative", "scale": {"domain": [-2.613, 3.802], "nice": false, "zero": false}, "axis": null}}, "layer": [{"mark": {"type": "area", "interpolate": "monotone", "color": "#8C2981", "fillOpacity": 0.5}, "encoding": {"y2": {"datum": 0}}}, {"mark": {"type": "line", "interpolate": "monotone", "color": "#8C2981", "strokeWidth": 2.8}}]},
  {"transform": [{"filter": "datum.g === 4"}], "encoding": {"y": {"field": "d", "type": "quantitative", "scale": {"domain": [-1.613, 4.802], "nice": false, "zero": false}, "axis": null}}, "layer": [{"mark": {"type": "area", "interpolate": "monotone", "color": "#3B0F70", "fillOpacity": 0.5}, "encoding": {"y2": {"datum": 0}}}, {"mark": {"type": "line", "interpolate": "monotone", "color": "#3B0F70", "strokeWidth": 2.8}}]},
  {"transform": [{"filter": "datum.g === 5"}], "encoding": {"y": {"field": "d", "type": "quantitative", "scale": {"domain": [-0.613, 5.802], "nice": false, "zero": false}, "axis": null}}, "layer": [{"mark": {"type": "area", "interpolate": "monotone", "color": "#000004", "fillOpacity": 0.5}, "encoding": {"y2": {"datum": 0}}}, {"mark": {"type": "line", "interpolate": "monotone", "color": "#000004", "strokeWidth": 2.8}}]}
 ],
 "resolve": {"scale": {"y": "independent"}}},
{"width": 492, "height": 680, "data": {"name": "mr"},
 "title": {"text": "adalimumab", "fontSize": 23.6, "font": "Liberation Sans", "fontWeight": "normal", "color": "#1a1a1a", "anchor": "middle", "frame": "group", "baseline": "alphabetic", "offset": -11.5},
 "encoding": {"x": {"field": "x", "type": "quantitative", "scale": {"domain": [-2.851, 33.775], "nice": false, "zero": false}, "axis": {"values": [0,5,10,15,20,25,30], "grid": true, "labels": false, "ticks": false, "domain": false, "title": null, "gridColor": "#ebebeb", "gridWidth": {"condition": {"test": "datum.value % 10 === 0", "value": 2.8}, "value": 1.4}}}},
 "layer": [
  {"data": {"name": "one"}, "mark": {"type": "point", "opacity": 0}, "encoding": {"y": {"datum": 0, "type": "quantitative", "scale": {"domain": [0, 6.415], "nice": false, "zero": false}, "axis": {"values": [0.613,1.613,2.613,3.613,4.613], "grid": true, "labels": false, "ticks": false, "domain": false, "title": null, "gridColor": "#ebebeb", "gridWidth": 2.8}}}},
  {"transform": [{"filter": "datum.g === 1"}], "encoding": {"y": {"field": "d", "type": "quantitative", "scale": {"domain": [-4.613, 1.802], "nice": false, "zero": false}, "axis": null}}, "layer": [{"mark": {"type": "area", "interpolate": "monotone", "color": "#FE9F6D", "fillOpacity": 0.5}, "encoding": {"y2": {"datum": 0}}}, {"mark": {"type": "line", "interpolate": "monotone", "color": "#FE9F6D", "strokeWidth": 2.8}}]},
  {"transform": [{"filter": "datum.g === 2"}], "encoding": {"y": {"field": "d", "type": "quantitative", "scale": {"domain": [-3.613, 2.802], "nice": false, "zero": false}, "axis": null}}, "layer": [{"mark": {"type": "area", "interpolate": "monotone", "color": "#DE4968", "fillOpacity": 0.5}, "encoding": {"y2": {"datum": 0}}}, {"mark": {"type": "line", "interpolate": "monotone", "color": "#DE4968", "strokeWidth": 2.8}}]},
  {"transform": [{"filter": "datum.g === 3"}], "encoding": {"y": {"field": "d", "type": "quantitative", "scale": {"domain": [-2.613, 3.802], "nice": false, "zero": false}, "axis": null}}, "layer": [{"mark": {"type": "area", "interpolate": "monotone", "color": "#8C2981", "fillOpacity": 0.5}, "encoding": {"y2": {"datum": 0}}}, {"mark": {"type": "line", "interpolate": "monotone", "color": "#8C2981", "strokeWidth": 2.8}}]},
  {"transform": [{"filter": "datum.g === 4"}], "encoding": {"y": {"field": "d", "type": "quantitative", "scale": {"domain": [-1.613, 4.802], "nice": false, "zero": false}, "axis": null}}, "layer": [{"mark": {"type": "area", "interpolate": "monotone", "color": "#3B0F70", "fillOpacity": 0.5}, "encoding": {"y2": {"datum": 0}}}, {"mark": {"type": "line", "interpolate": "monotone", "color": "#3B0F70", "strokeWidth": 2.8}}]},
  {"transform": [{"filter": "datum.g === 5"}], "encoding": {"y": {"field": "d", "type": "quantitative", "scale": {"domain": [-0.613, 5.802], "nice": false, "zero": false}, "axis": null}}, "layer": [{"mark": {"type": "area", "interpolate": "monotone", "color": "#000004", "fillOpacity": 0.5}, "encoding": {"y2": {"datum": 0}}}, {"mark": {"type": "line", "interpolate": "monotone", "color": "#000004", "strokeWidth": 2.8}}]}
 ],
 "resolve": {"scale": {"y": "independent"}}}
]},
{"spacing": 16, "hconcat": [
{"width": 492, "height": 680, "data": {"name": "bl"},
 "title": {"text": "glatiramer", "fontSize": 23.6, "font": "Liberation Sans", "fontWeight": "normal", "color": "#1a1a1a", "anchor": "middle", "frame": "group", "baseline": "alphabetic", "offset": -11.5},
 "encoding": {"x": {"field": "x", "type": "quantitative", "scale": {"domain": [-2.851, 33.775], "nice": false, "zero": false}, "axis": {"values": [0,5,10,15,20,25,30], "grid": true, "labels": false, "ticks": false, "domain": false, "title": null, "gridColor": "#ebebeb", "gridWidth": {"condition": {"test": "datum.value % 10 === 0", "value": 2.8}, "value": 1.4}}}},
 "layer": [
  {"data": {"name": "one"}, "mark": {"type": "point", "opacity": 0}, "encoding": {"y": {"datum": 0, "type": "quantitative", "scale": {"domain": [0, 6.415], "nice": false, "zero": false}, "axis": {"values": [0.613,1.613,2.613,3.613,4.613], "grid": true, "labels": false, "ticks": false, "domain": false, "title": null, "gridColor": "#ebebeb", "gridWidth": 2.8}}}},
  {"transform": [{"filter": "datum.g === 1"}], "encoding": {"y": {"field": "d", "type": "quantitative", "scale": {"domain": [-4.613, 1.802], "nice": false, "zero": false}, "axis": null}}, "layer": [{"mark": {"type": "area", "interpolate": "monotone", "color": "#FE9F6D", "fillOpacity": 0.5}, "encoding": {"y2": {"datum": 0}}}, {"mark": {"type": "line", "interpolate": "monotone", "color": "#FE9F6D", "strokeWidth": 2.8}}]},
  {"transform": [{"filter": "datum.g === 2"}], "encoding": {"y": {"field": "d", "type": "quantitative", "scale": {"domain": [-3.613, 2.802], "nice": false, "zero": false}, "axis": null}}, "layer": [{"mark": {"type": "area", "interpolate": "monotone", "color": "#DE4968", "fillOpacity": 0.5}, "encoding": {"y2": {"datum": 0}}}, {"mark": {"type": "line", "interpolate": "monotone", "color": "#DE4968", "strokeWidth": 2.8}}]},
  {"transform": [{"filter": "datum.g === 4"}], "encoding": {"y": {"field": "d", "type": "quantitative", "scale": {"domain": [-1.613, 4.802], "nice": false, "zero": false}, "axis": null}}, "layer": [{"mark": {"type": "area", "interpolate": "monotone", "color": "#3B0F70", "fillOpacity": 0.5}, "encoding": {"y2": {"datum": 0}}}, {"mark": {"type": "line", "interpolate": "monotone", "color": "#3B0F70", "strokeWidth": 2.8}}]}
 ],
 "resolve": {"scale": {"y": "independent"}}},
{"width": 492, "height": 680, "data": {"name": "br"},
 "title": {"text": "ocrelizumab", "fontSize": 23.6, "font": "Liberation Sans", "fontWeight": "normal", "color": "#1a1a1a", "anchor": "middle", "frame": "group", "baseline": "alphabetic", "offset": -11.5},
 "encoding": {"x": {"field": "x", "type": "quantitative", "scale": {"domain": [-2.851, 33.775], "nice": false, "zero": false}, "axis": {"values": [0,5,10,15,20,25,30], "grid": true, "labels": false, "ticks": false, "domain": false, "title": null, "gridColor": "#ebebeb", "gridWidth": {"condition": {"test": "datum.value % 10 === 0", "value": 2.8}, "value": 1.4}}}},
 "layer": [
  {"data": {"name": "one"}, "mark": {"type": "point", "opacity": 0}, "encoding": {"y": {"datum": 0, "type": "quantitative", "scale": {"domain": [0, 6.415], "nice": false, "zero": false}, "axis": {"values": [0.613,1.613,2.613,3.613,4.613], "grid": true, "labels": false, "ticks": false, "domain": false, "title": null, "gridColor": "#ebebeb", "gridWidth": 2.8}}}},
  {"transform": [{"filter": "datum.g === 1"}], "encoding": {"y": {"field": "d", "type": "quantitative", "scale": {"domain": [-4.613, 1.802], "nice": false, "zero": false}, "axis": null}}, "layer": [{"mark": {"type": "area", "interpolate": "monotone", "color": "#FE9F6D", "fillOpacity": 0.5}, "encoding": {"y2": {"datum": 0}}}, {"mark": {"type": "line", "interpolate": "monotone", "color": "#FE9F6D", "strokeWidth": 2.8}}]},
  {"transform": [{"filter": "datum.g === 2"}], "encoding": {"y": {"field": "d", "type": "quantitative", "scale": {"domain": [-3.613, 2.802], "nice": false, "zero": false}, "axis": null}}, "layer": [{"mark": {"type": "area", "interpolate": "monotone", "color": "#DE4968", "fillOpacity": 0.5}, "encoding": {"y2": {"datum": 0}}}, {"mark": {"type": "line", "interpolate": "monotone", "color": "#DE4968", "strokeWidth": 2.8}}]},
  {"transform": [{"filter": "datum.g === 4"}], "encoding": {"y": {"field": "d", "type": "quantitative", "scale": {"domain": [-1.613, 4.802], "nice": false, "zero": false}, "axis": null}}, "layer": [{"mark": {"type": "area", "interpolate": "monotone", "color": "#3B0F70", "fillOpacity": 0.5}, "encoding": {"y2": {"datum": 0}}}, {"mark": {"type": "line", "interpolate": "monotone", "color": "#3B0F70", "strokeWidth": 2.8}}]}
 ],
 "resolve": {"scale": {"y": "independent"}}}
]}
]}
]
}
